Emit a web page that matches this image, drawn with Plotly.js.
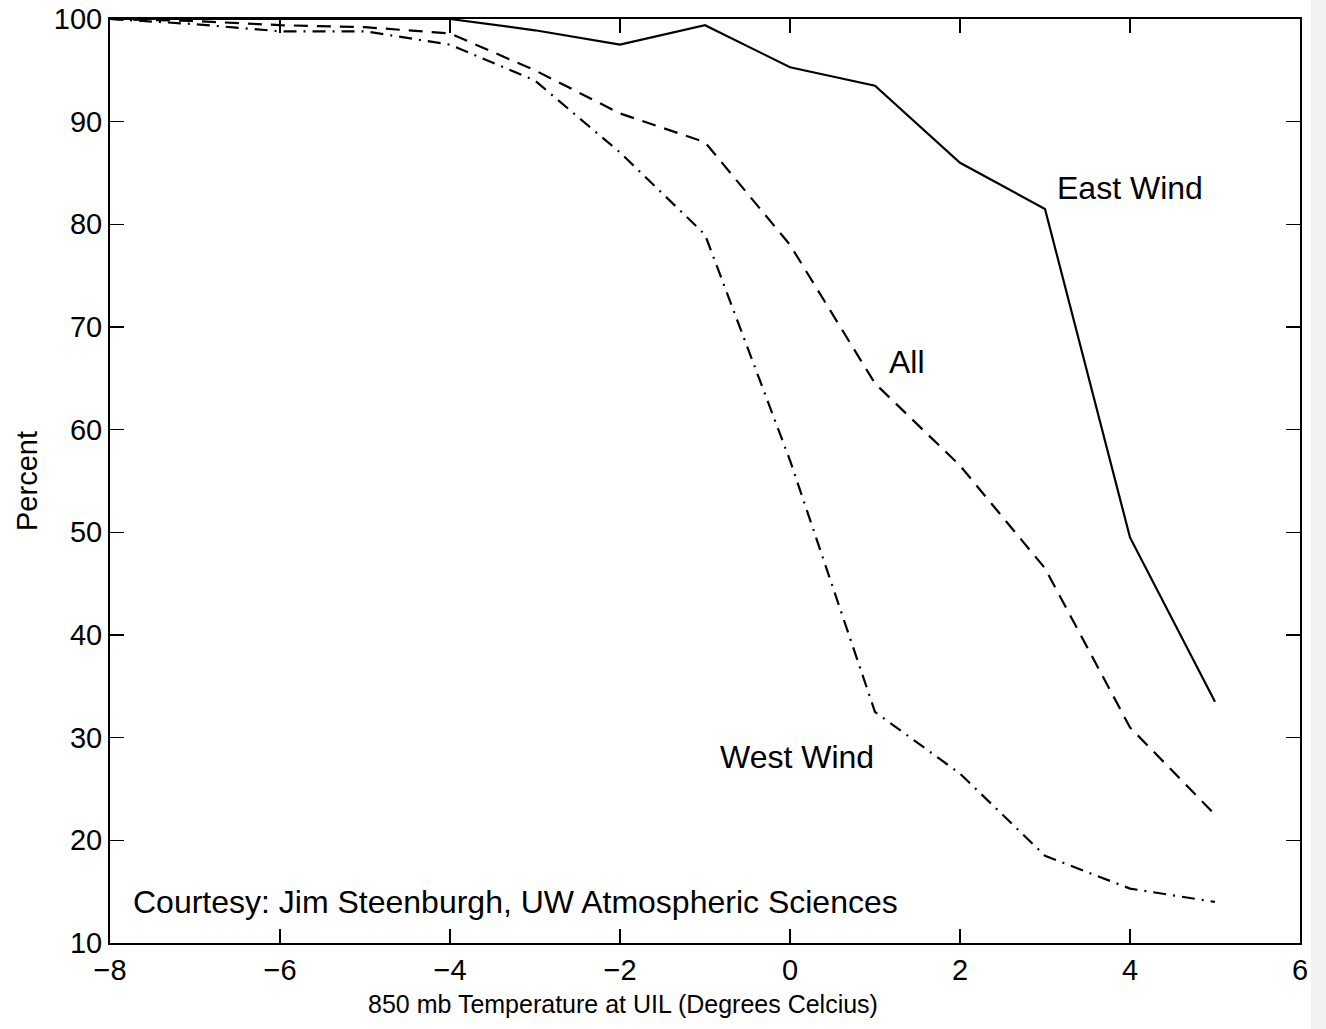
<!DOCTYPE html>
<html>
<head>
<meta charset="utf-8">
<script src="https://cdn.plot.ly/plotly-3.0.1.min.js"></script>
<style>html,body{margin:0;padding:0;background:#fff;}#chart{width:1326px;height:1029px;}</style>
</head>
<body>
<div id="chart"></div>
<script>
const temperature = [-8, -7, -6, -5, -4, -3, -2, -1, 0, 1, 2, 3, 4, 5];
const eastWind = [100, 100, 100, 100, 100, 98.9, 97.5, 99.4, 95.3, 93.5, 86, 81.5, 49.5, 33.5];
const allWinds = [100, 99.8, 99.4, 99.2, 98.6, 95, 90.8, 88, 78, 64.5, 56.5, 46.5, 31, 22.5];
const westWind = [100, 99.5, 98.8, 98.8, 97.5, 94, 87, 79, 57, 32.5, 26.5, 18.5, 15.3, 14];
const xTicks = [-8, -6, -4, -2, 0, 2, 4, 6];
const yTicks = [10, 20, 30, 40, 50, 60, 70, 80, 90, 100];
const labels = [
  {text: 'East Wind', x: 4, y: 83.5},
  {text: 'All', x: 1.38, y: 66.6},
  {text: 'West Wind', x: 0.08, y: 28.1}
];
const courtesy = 'Courtesy: Jim Steenburgh, UW Atmospheric Sciences';
const xTitle = '850 mb Temperature at UIL (Degrees Celcius)';
const yTitle = 'Percent';

const FONT = 'Liberation Sans, Arial, Helvetica, sans-serif';
const W = 1326, H = 1029, ML = 110, MR = 26, MT = 19, MB = 86;
const plotW = W - ML - MR, plotH = H - MT - MB;

const traces = [
  {x: temperature, y: eastWind, mode: 'lines', line: {color: '#000', width: 2.2, dash: 'solid'}, name: 'East Wind'},
  {x: temperature, y: allWinds, mode: 'lines', line: {color: '#000', width: 2.2, dash: '14px,9px'}, name: 'All'},
  {x: temperature, y: westWind, mode: 'lines', line: {color: '#000', width: 2.2, dash: '13px,7px,2px,7px'}, name: 'West Wind'}
];
const annotations = labels.map(l => ({
  text: l.text, x: l.x, y: l.y, xref: 'x', yref: 'y', showarrow: false,
  xanchor: 'center', yanchor: 'middle',
  font: {family: FONT, size: 32, color: '#000'}
}));
annotations.push({text: courtesy, x: -7.75, y: 14, xref: 'x', yref: 'y', xanchor: 'left', yanchor: 'middle', showarrow: false,
  font: {family: FONT, size: 32, color: '#000'}});
annotations.push({text: xTitle, x: (623 - ML) / plotW, y: -(1004 - (H - MB)) / plotH, xref: 'paper', yref: 'paper',
  xanchor: 'center', yanchor: 'middle', showarrow: false,
  font: {family: FONT, size: 25, color: '#000'}});

const layout = {
  width: W, height: H,
  margin: {l: ML, r: MR, t: MT, b: MB},
  paper_bgcolor: '#fff', plot_bgcolor: '#fff',
  showlegend: false,
  font: {family: FONT, size: 29, color: '#000'},
  xaxis: {
    range: [-8, 6], tickvals: xTicks, ticktext: xTicks.map(v => v < 0 ? '\u2212' + Math.abs(v) : String(v)),
    ticks: 'inside', ticklen: 14, tickwidth: 1.5, tickcolor: '#000',
    showline: true, linecolor: '#000', linewidth: 2, mirror: 'ticks',
    showgrid: false, zeroline: false, tickfont: {family: FONT, size: 29}
  },
  yaxis: {
    range: [10, 100], tickvals: yTicks,
    ticks: 'inside', ticklen: 14, tickwidth: 1.5, tickcolor: '#000',
    showline: true, linecolor: '#000', linewidth: 2, mirror: 'ticks',
    showgrid: false, zeroline: false, tickfont: {family: FONT, size: 29},
    title: {text: yTitle, font: {family: FONT, size: 29}, standoff: 8}
  },
  shapes: [
    {type: 'rect', xref: 'paper', yref: 'paper', x0: (1311 - ML) / plotW, x1: (W - ML) / plotW,
     y0: -MB / plotH, y1: (plotH + MT) / plotH, fillcolor: '#f2f2f2', line: {width: 0}, layer: 'below'}
  ],
  annotations: annotations
};
Plotly.newPlot('chart', traces, layout, {staticPlot: true});
</script>
</body>
</html>
